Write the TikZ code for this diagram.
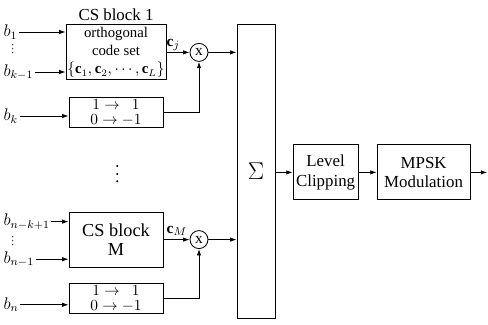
\documentclass[tikz,border=0pt,11pt]{standalone}
\usepackage{fontspec}
\setmainfont{Liberation Serif}
\usetikzlibrary{positioning,arrows.meta,calc}

\begin{document}
\begin{tikzpicture}[
    blk/.style={draw,line width=0.6pt,minimum width=2.35cm,align=center,inner sep=1pt},
    mul/.style={draw,circle,line width=0.6pt,minimum size=0.45cm,inner sep=0pt},
    sig/.style={-{Latex[length=1.6mm,width=1.1mm]},line width=0.6pt},
    bit/.style={inner sep=1pt,font=\large}]
    \useasboundingbox[fill=white] (0,0) rectangle (12.2cm,8.1cm);
    % coding branches
    \node[blk,minimum height=1.375cm,font=\fontsize{10.5}{13}\selectfont,
          label={[font=\large,yshift=-1pt]above:CS block 1}] (cs1) at (2.9cm,6.79cm)
      {orthogonal\\code set\\$\{\mathbf{c}_1,\mathbf{c}_2,\cdots,\mathbf{c}_L\}$};
    \node[blk,minimum height=0.75cm] (map1) at (2.9cm,5.29cm)
      {$1\rightarrow\ \ 1$\\[-3pt]$0\rightarrow-1$};
    \node[blk,minimum height=1.375cm,font=\fontsize{13}{14}\selectfont] (csM) at (2.9cm,2.11cm)
      {CS block\\M};
    \node[blk,minimum height=0.75cm] (mapM) at (2.9cm,0.63cm)
      {$1\rightarrow\ \ 1$\\[-3pt]$0\rightarrow-1$};
    \node[mul] (mul1) at (4.975cm,6.79cm) {x};
    \node[mul] (mulM) at (4.975cm,2.11cm) {x};
    \node (cj) at (4.33cm,6.98cm) {$\mathbf{c}_j$};
    \node (cM) at (4.42cm,2.33cm) {$\mathbf{c}_M$};
    % inputs
    \foreach \nm/\yy/\txt/\dst in {bone/7.3/b_1/cs1,bkm/6.3/b_{k-1}/cs1,bk/5.2/b_k/map1,
                                   bnk/2.56/b_{n-k+1}/csM,bnm/1.62/b_{n-1}/csM,bn/0.48/b_n/mapM}
      {\node[bit,anchor=west] (\nm) at (0.05cm,\yy cm) {$\txt$};
       \draw[sig] (\nm.east) -- (\nm.east -| \dst.west);}
    % dots
    \foreach \y in {6.78,6.88,6.98,1.98,2.08,2.18}
      {\fill (0.32cm,\y cm) circle (0.45pt);}
    \foreach \y in {3.95,3.75,3.57}
      {\fill (2.93cm,\y cm) circle (0.8pt);}
    % summation and output chain
    \node[draw,line width=0.6pt,minimum width=0.95cm,minimum height=7.35cm] (sum) at (6.4cm,3.82cm)
      {\LARGE$\Sigma$};
    \node[blk,minimum width=1.625cm,minimum height=1.375cm,font=\large] (clip) at (8.14cm,3.79cm)
      {Level\\Clipping};
    \node[blk,minimum width=2.325cm,minimum height=1.375cm,font=\large] (mpsk) at (10.59cm,3.79cm)
      {MPSK\\Modulation};
    \coordinate (out) at (12.18cm,3.79cm);
    \draw[sig] (cs1.east) -- (mul1.west);
    \draw[sig] (map1.east) -| (mul1.south);
    \draw[sig] (mul1.east) -- (mul1 -| sum.west);
    \draw[sig] (csM.east) -- (mulM.west);
    \draw[sig] (mapM.east) -| (mulM.south);
    \draw[sig] (mulM.east) -- (mulM -| sum.west);
    \draw[sig] (clip -| sum.east) -- (clip.west);
    \draw[sig] (clip.east) -- (mpsk.west);
    \draw[sig] (mpsk.east) -- (out);
  \end{tikzpicture}
\end{document}
